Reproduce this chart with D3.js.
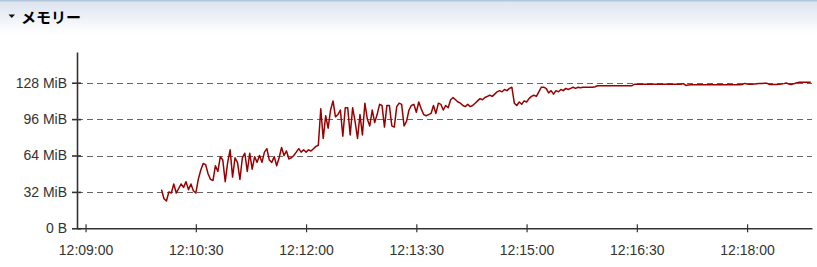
<!DOCTYPE html>
<html>
<head>
<meta charset="utf-8">
<script src="https://cdn.jsdelivr.net/npm/d3@7"></script>
<style>
	body { margin: 0; background: #fff; }
	svg { display: block; }
	.tick-label { font-family: "Liberation Sans", Arial, sans-serif; font-size: 14px; fill: #333; }
</style>
</head>
<body>
<svg id="chart" width="817" height="267"></svg>
<script>
// memory samples, one every 2 seconds from 12:10:02 (MiB)
const sampleStart = [12, 10, 2];
const sampleStepSec = 2;
const memMiB = [
	34, 26, 24, 32, 31, 39, 31, 35, 39, 36, 41, 34, 39, 33, 31, 43, 51, 57, 56, 48,
	43, 42, 55, 50, 63, 60, 41, 58, 69, 45, 62, 58, 43, 62, 66, 50, 66, 52, 63, 58,
	64, 58, 67, 70, 60, 58, 63, 55, 62, 71, 64, 68, 61, 62, 64, 67, 70, 67, 69, 67,
	69, 68, 70, 72, 73, 105, 79, 99, 88, 104, 112, 98, 100, 104, 81, 106, 106, 82, 106, 94,
	79, 100, 82, 110, 96, 90, 104, 93, 100, 109, 108, 89, 108, 108, 90, 89, 107, 110, 109, 90,
	94, 104, 108, 109, 102, 111, 105, 100, 99, 100, 101, 108, 101, 110, 109, 104, 108, 106, 113, 115,
	113, 111, 110, 108, 107, 109, 107, 108, 110, 112, 114, 113, 115, 116, 117, 116, 118, 120, 121, 120,
	122, 121, 123, 124, 110, 108, 111, 109, 112, 111, 114, 116, 117, 116, 120, 124, 124, 123, 119, 121,
	118, 121, 120, 122, 121, 123, 122, 123, 124, 123, 124, 123.5, 124, 124, 124, 124, 124, 124.5, 125.3, 125.3,
	125.3, 125.3, 125.3, 125.3, 125.3, 125.3, 125.3, 125.3, 125.3, 125.3, 125.3, 125.3, 125.4, 126.6, 126.6, 126.6, 126.6, 126.6, 126.6, 126.6,
	126.6, 126.6, 126.6, 126.6, 126.6, 126.6, 126.6, 126.6, 126.6, 126.6, 126.6, 126.6, 126.6, 127.2, 125.6, 126.0, 126.2, 126.2, 126.2, 126.2,
	126.2, 126.2, 126.2, 126.2, 126.2, 126.2, 126.2, 126.2, 126.2, 126.2, 126.2, 126.2, 126.2, 126.2, 126.2, 126.2, 126.2, 126.4, 127.4, 126.9,
	126.6, 126.6, 126.8, 127.0, 127.2, 127.3, 127.5, 127.6, 126.5, 126.5, 126.5, 126.5, 126.6, 126.8, 127.2, 127.8, 126.8, 126.5, 127, 127.8,
	128.3, 128.4, 128.4, 128.4, 128.4, 128.4
];
const yTicksMiB = [0, 32, 64, 96, 128];
const xTickTimes = ["12:09:00", "12:10:30", "12:12:00", "12:13:30", "12:15:00", "12:16:30", "12:18:00"];
const title = "メモリー";

const svg = d3.select("#chart");
const W = 817;

// header bar
const defs = svg.append("defs");
const hg = defs.append("linearGradient")
	.attr("id", "head-grad")
	.attr("x1", "0%").attr("y1", "0%")
	.attr("x2", "0%").attr("y2", "100%");
hg.append("stop").attr("offset", "0%").attr("stop-color", "#dbe3ee");
hg.append("stop").attr("offset", "100%").attr("stop-color", "#ffffff");
svg.append("rect")
	.attr("x", 0).attr("y", 0).attr("width", W).attr("height", 34)
	.attr("fill", "url(#head-grad)");
svg.append("rect")
	.attr("x", 0).attr("y", 0).attr("width", W).attr("height", 1.5)
	.attr("fill", "#b3c7df");
svg.append("path")
	.attr("d", "M8.5,14.5 L15,14.5 L11.75,18 Z")
	.attr("fill", "#111");
svg.append("text")
	.attr("x", 21).attr("y", 23)
	.style("font-family", "'Noto Sans CJK JP', sans-serif")
	.style("font-size", "15px")
	.style("font-weight", "bold")
	.attr("fill", "#000")
	.text(title);

// scales
const parseT = d3.timeParse("%H:%M:%S");
const day = (h, m, s) => new Date(1900, 0, 1, h, m, s);
const x = d3.scaleTime()
	.domain([day(12, 8, 53.7), day(12, 18, 53.3)])
	.range([77, 812]);
const y = d3.scaleLinear()
	.domain([0, 155])
	.range([228.3, 52]);

const t0 = day(...sampleStart).getTime();
const data = memMiB.map((v, i) => ({ t: new Date(t0 + i * sampleStepSec * 1000), v: v }));

// grid
svg.append("g")
	.selectAll("line")
	.data(yTicksMiB.filter(d => d > 0))
	.enter()
	.append("line")
	.attr("x1", 77).attr("x2", 812)
	.attr("y1", d => Math.round(y(d)) + 0.5)
	.attr("y2", d => Math.round(y(d)) + 0.5)
	.attr("stroke", "#666")
	.attr("stroke-width", 1)
	.attr("stroke-dasharray", "6,4");

// line
const line = d3.line()
	.x(d => x(d.t))
	.y(d => y(d.v));
svg.append("path")
	.datum(data)
	.attr("d", line)
	.attr("fill", "none")
	.attr("stroke", "#990000")
	.attr("stroke-width", 1.5)
	.attr("stroke-linejoin", "round");

// axes
const yAxis = d3.axisLeft(y)
	.tickValues(yTicksMiB)
	.tickFormat(d => d === 0 ? "0 B" : d + " MiB")
	.tickSizeInner(5)
	.tickSizeOuter(0)
	.tickPadding(5);
const yg = svg.append("g")
	.attr("transform", "translate(77,0)")
	.call(yAxis);
yg.select(".domain").attr("stroke", "#333").attr("stroke-width", 1.6);
yg.selectAll(".tick line").attr("x1", 4).attr("x2", -5).attr("stroke", "#333").attr("stroke-width", 1.6);
yg.selectAll(".tick text").attr("class", "tick-label").attr("font-family", null).attr("font-size", null);

const xAxis = d3.axisBottom(x)
	.tickValues(xTickTimes.map(s => parseT(s)))
	.tickFormat(d3.timeFormat("%H:%M:%S"))
	.tickSizeInner(4)
	.tickSizeOuter(0)
	.tickPadding(13);
const xg = svg.append("g")
	.attr("transform", "translate(0,228.3)")
	.call(xAxis);
xg.select(".domain").attr("stroke", "#333").attr("stroke-width", 1.6);
xg.selectAll(".tick line").attr("y1", -4).attr("y2", 4).attr("stroke", "#333").attr("stroke-width", 1.2);
xg.selectAll(".tick text").attr("class", "tick-label").attr("font-family", null).attr("font-size", null);
</script>
</body>
</html>
